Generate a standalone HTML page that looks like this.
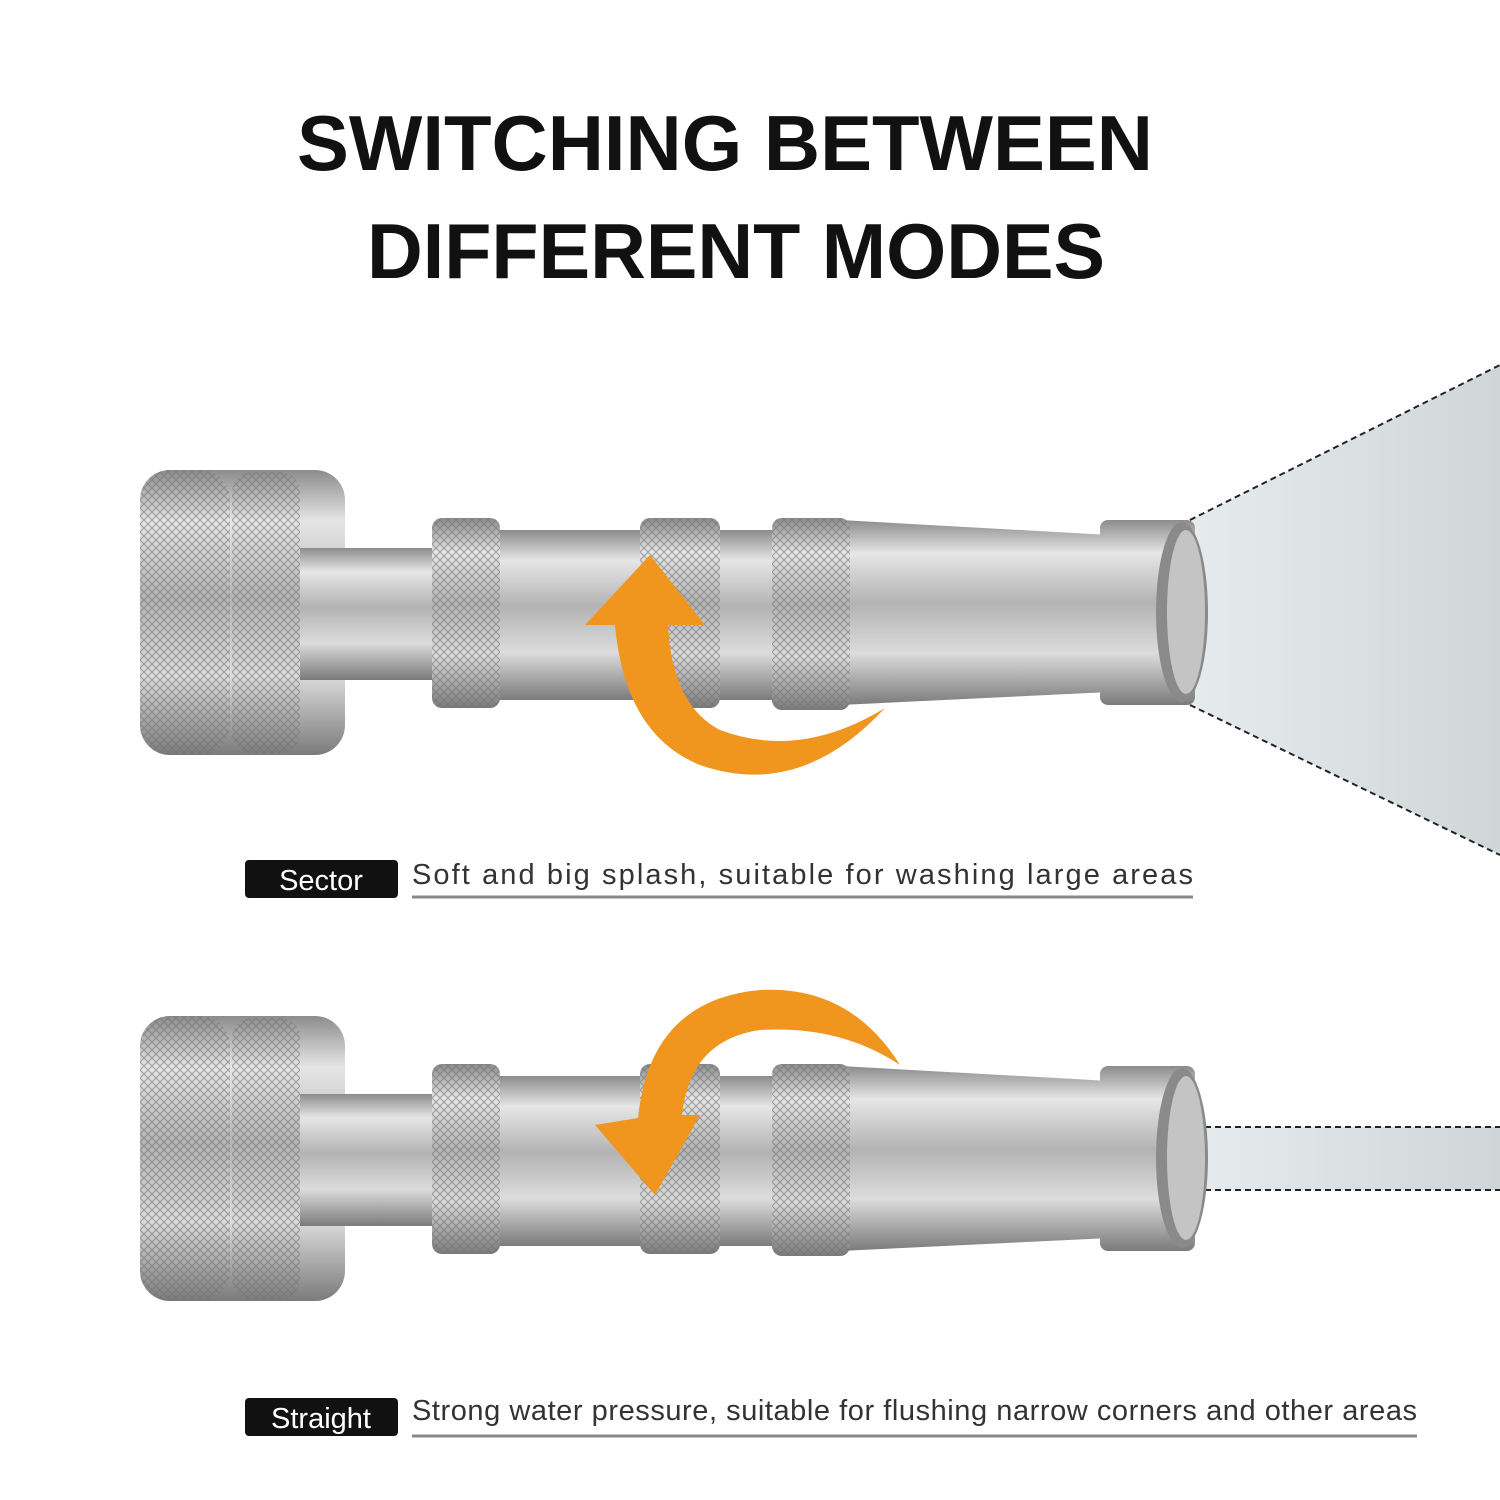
<!DOCTYPE html>
<html><head><meta charset="utf-8"><style>
html,body{margin:0;padding:0;background:#fff}
svg{display:block}
</style></head><body>
<svg width="1500" height="1500" viewBox="0 0 1500 1500" xmlns="http://www.w3.org/2000/svg">
<defs>
<linearGradient id="m" x1="0" y1="0" x2="0" y2="1">
<stop offset="0" stop-color="#8c8c8c"/><stop offset="0.18" stop-color="#e6e6e6"/><stop offset="0.45" stop-color="#b3b3b3"/><stop offset="0.72" stop-color="#dcdcdc"/><stop offset="1" stop-color="#7b7b7b"/>
</linearGradient>
<pattern id="k" width="8" height="8" patternUnits="userSpaceOnUse">
<rect width="8" height="8" fill="none"/>
<path d="M0 8L8 0M0 0L8 8" stroke="#6f6f6f" stroke-width="1.1" opacity="0.6"/>
</pattern>
<linearGradient id="sp" x1="0" y1="0" x2="1" y2="0">
<stop offset="0" stop-color="#e6ecee"/><stop offset="1" stop-color="#cfd6d8"/>
</linearGradient>
<g id="noz">
<rect x="140" y="470" width="205" height="285" rx="30" fill="url(#m)"/>
<rect x="140" y="470" width="90" height="285" rx="30" fill="url(#k)"/>
<rect x="232" y="472" width="68" height="281" rx="20" fill="url(#k)"/>
<rect x="300" y="548" width="140" height="132" fill="url(#m)"/>
<rect x="490" y="530" width="360" height="170" fill="url(#m)"/>
<path d="M840 520 L1110 535 L1110 692 L840 705Z" fill="url(#m)"/>
<rect x="432" y="518" width="68" height="190" rx="10" fill="url(#m)"/>
<rect x="432" y="518" width="68" height="190" rx="10" fill="url(#k)"/>
<rect x="640" y="518" width="80" height="190" rx="10" fill="url(#m)"/>
<rect x="640" y="518" width="80" height="190" rx="10" fill="url(#k)"/>
<rect x="772" y="518" width="78" height="192" rx="10" fill="url(#m)"/>
<rect x="772" y="518" width="78" height="192" rx="10" fill="url(#k)"/>
<rect x="1100" y="520" width="95" height="185" rx="8" fill="url(#m)"/>
<ellipse cx="1182" cy="612" rx="26" ry="90" fill="#8a8a8a"/>
<ellipse cx="1186" cy="612" rx="19" ry="82" fill="#c4c4c4"/>
</g>
</defs>

<text x="297" y="170" font-family="Liberation Sans, sans-serif" font-weight="bold" font-size="78" fill="#111" textLength="856" lengthAdjust="spacingAndGlyphs">SWITCHING BETWEEN</text>
<text x="367" y="278" font-family="Liberation Sans, sans-serif" font-weight="bold" font-size="78" fill="#111" textLength="738" lengthAdjust="spacingAndGlyphs">DIFFERENT MODES</text>

<path d="M1190 520 L1500 365 L1500 855 L1190 705Z" fill="url(#sp)"/>
<path d="M1190 520 L1500 365 M1190 705 L1500 855" stroke="#222" stroke-width="2" stroke-dasharray="6,4"/>
<use href="#noz"/>
<path d="M885 708 Q800 800 700 765 Q625 735 615 625 L585 625 L650 555 L705 625 L668 625 Q672 705 720 730 Q800 760 885 708Z" fill="#f0961e"/>

<rect x="1195" y="1127" width="305" height="63" fill="url(#sp)"/>
<path d="M1195 1127 L1500 1127 M1195 1190 L1500 1190" stroke="#222" stroke-width="2" stroke-dasharray="6,4"/>
<use href="#noz" transform="translate(0,546)"/>
<path d="M900 1065 Q850 985 760 990 Q650 1000 638 1118 L595 1125 L655 1195 L700 1115 L682 1115 Q690 1040 760 1030 Q840 1025 900 1065Z" fill="#f0961e"/>

<rect x="245" y="860" width="153" height="38" rx="4" fill="#111"/>
<text x="321" y="890" text-anchor="middle" font-family="Liberation Sans, sans-serif" font-size="29" fill="#fff">Sector</text>
<text x="412" y="884" font-family="Liberation Sans, sans-serif" font-size="29" fill="#333" textLength="781">Soft and big splash, suitable for washing large areas</text>
<line x1="412" y1="897" x2="1193" y2="897" stroke="#888" stroke-width="3"/>

<rect x="245" y="1398" width="153" height="38" rx="4" fill="#111"/>
<text x="321" y="1428" text-anchor="middle" font-family="Liberation Sans, sans-serif" font-size="29" fill="#fff">Straight</text>
<text x="412" y="1420" font-family="Liberation Sans, sans-serif" font-size="29" fill="#333" textLength="1005">Strong water pressure, suitable for flushing narrow corners and other areas</text>
<line x1="412" y1="1436" x2="1417" y2="1436" stroke="#888" stroke-width="3"/>
</svg>
</body></html>
